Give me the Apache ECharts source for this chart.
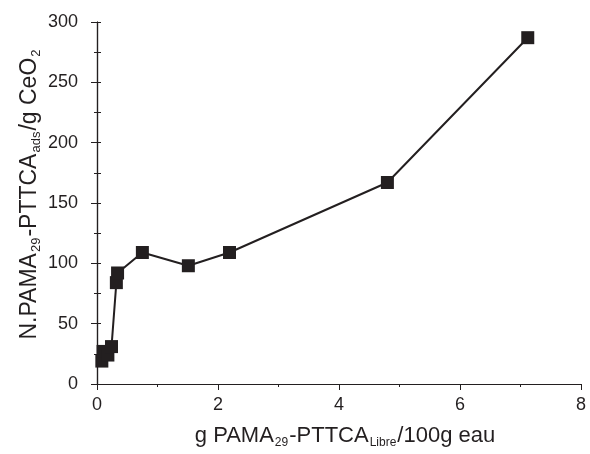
<!DOCTYPE html>
<html>
<head>
<meta charset="utf-8">
<script src="https://cdn.jsdelivr.net/npm/echarts@6/dist/echarts.min.js"></script>
<style>
  html, body { margin: 0; padding: 0; background: #fff; }
  #chart { width: 590px; height: 454px; }
</style>
</head>
<body>
<div id="chart"></div>
<script>
// g PAMA29-PTTCA libre / 100 g eau
const xValues = [0.08, 0.10, 0.18, 0.24, 0.32, 0.34, 0.75, 1.51, 2.19, 4.80, 7.12];
// N.PAMA29-PTTCA ads / g CeO2
const yValues = [19, 27, 24, 31, 84, 92, 109, 98, 109, 167, 287];
const xTicks = [0, 2, 4, 6, 8];
const yTicks = [0, 50, 100, 150, 200, 250, 300];

const points = xValues.map((x, i) => [x, yValues[i]]);
const font = 'Liberation Sans, Arial, sans-serif';
const ink = '#231f20';

function nameRich(big, small, drop) {
  return {
    t: { fontFamily: font, fontSize: big, color: ink, lineHeight: 26, verticalAlign: 'middle' },
    s: { fontFamily: font, fontSize: small, color: ink, lineHeight: 26, verticalAlign: 'bottom', padding: [drop, 1, 0, 1] }
  };
}

const chart = echarts.init(document.getElementById('chart'));
chart.setOption({
  animation: false,
  backgroundColor: '#fff',
  grid: { left: 97, right: 9, top: 22, bottom: 69 },
  xAxis: [
    {
      type: 'value',
      min: xTicks[0],
      max: xTicks[xTicks.length - 1],
      interval: 2,
      name: '{t|g PAMA}{s|29}{t|-PTTCA}{s|Libre}{t|/100g eau}',
      nameLocation: 'middle',
      nameGap: 39,
      nameMoveOverlap: false,
      nameTextStyle: { rich: nameRich(22, 12, 16), padding: [0, 0, 0, 12] },
      axisLine: { lineStyle: { color: ink, width: 1.2 } },
      axisTick: { length: 6, lineStyle: { color: ink } },
      minorTick: { show: true, splitNumber: 2, length: 3, lineStyle: { color: ink } },
      splitLine: { show: false },
      axisLabel: { fontFamily: font, fontSize: 18, color: ink, margin: 12 }
    },
    {
      type: 'value',
      position: 'top',
      min: 0, max: 8, interval: 1,
      axisLine: { lineStyle: { color: ink, width: 1.2 } },
      axisTick: { show: false },
      axisLabel: { show: false },
      splitLine: { show: false }
    }
  ],
  yAxis: [
    {
      type: 'value',
      min: yTicks[0],
      max: yTicks[yTicks.length - 1],
      interval: 50,
      name: '{t|N.PAMA}{s|29}{t|-PTTCA}{s|ads}{t|/g CeO}{s|2}',
      nameLocation: 'middle',
      nameGap: 54,
      nameMoveOverlap: false,
      nameTextStyle: { rich: nameRich(23, 13, 16), padding: [0, 0, 0, 18] },
      axisLine: { show: true, lineStyle: { color: ink, width: 1.2 } },
      axisTick: { show: true, length: 6, lineStyle: { color: ink } },
      minorTick: { show: true, splitNumber: 2, length: 3, lineStyle: { color: ink } },
      splitLine: { show: false },
      axisLabel: { fontFamily: font, fontSize: 18, color: ink, margin: 19 }
    },
    {
      type: 'value',
      position: 'right',
      min: 0, max: 300, interval: 25,
      axisLine: { show: true, lineStyle: { color: ink, width: 1.2 } },
      axisTick: { show: true, length: 4, lineStyle: { color: ink } },
      axisLabel: { show: false },
      splitLine: { show: false }
    }
  ],
  series: [{
    type: 'line',
    data: points,
    symbol: 'rect',
    symbolSize: 13,
    itemStyle: { color: ink },
    lineStyle: { color: ink, width: 2 }
  }]
});
</script>
</body>
</html>
